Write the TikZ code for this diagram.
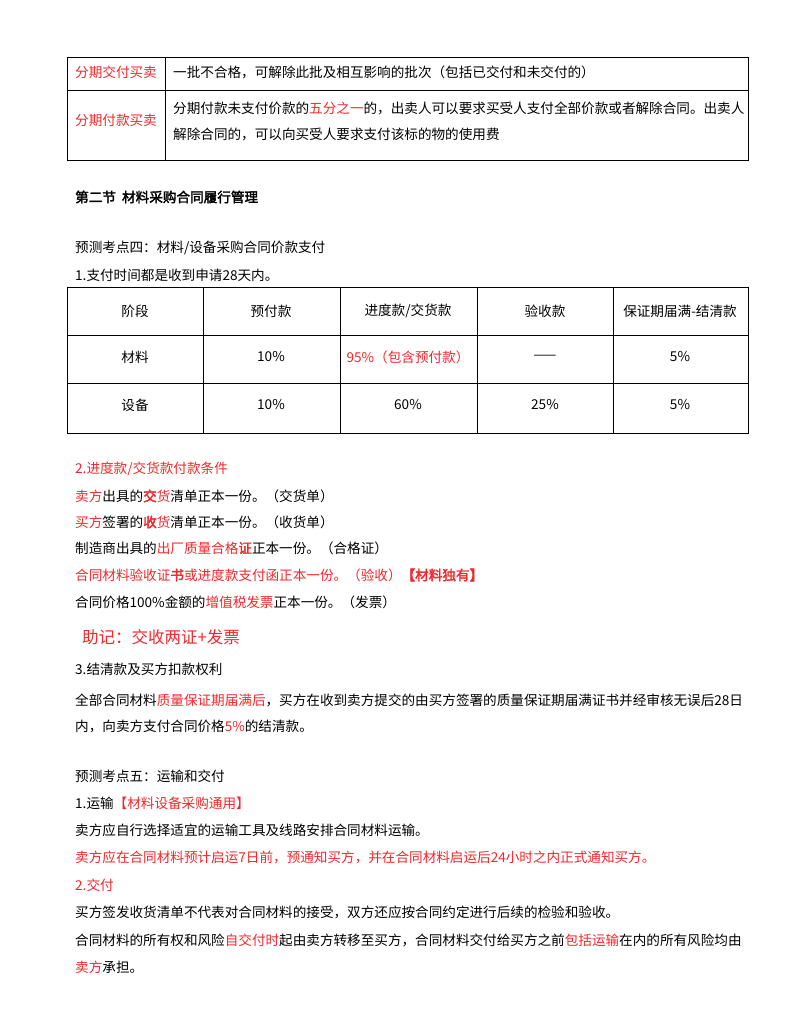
\documentclass[tikz,border=0pt]{standalone}
\usepackage{fontspec}
\newfontfamily\cjk[AutoFakeBold=2.5]{Noto Sans CJK SC}
\definecolor{rd}{HTML}{F0282D}
\newcommand{\R}[1]{\textcolor{rd}{#1}}
\newcommand{\RB}[1]{\textcolor{rd}{\bfseries #1}}
\begin{document}
\begin{tikzpicture}[x=1pt,y=-1pt,
  t/.style={anchor=west,inner sep=0pt,font=\cjk\fontsize{13.6}{16}\selectfont},
  c/.style={anchor=center,inner sep=0pt,font=\cjk\fontsize{13.6}{16}\selectfont},
  ln/.style={line width=0.9pt}]
\useasboundingbox (0,0) rectangle (800,1035);
% table 1
\draw[ln] (67,57) rectangle (748,160);
\draw[ln] (67,90) -- (748,90);
\draw[ln] (165,57) -- (165,160);
\node[c] (a1) at (116,72) {\R{分期交付买卖}};
\node[c] (a2) at (116,120) {\R{分期付款买卖}};
\node[t] (b1) at (173,72) {一批不合格，可解除此批及相互影响的批次（包括已交付和未交付的）};
\node[t] (b2) at (173,108) {分期付款未支付价款的\R{五分之一}的，出卖人可以要求买受人支付全部价款或者解除合同。出卖人};
\node[t] (b3) at (173,134) {解除合同的，可以向买受人要求支付该标的物的使用费};
\node[t] (h) at (75,197) {\bfseries 第二节\ \ 材料采购合同履行管理};
\node[t] (p4) at (75,248) {预测考点四：材料/设备采购合同价款支付};
\node[t] (l1) at (75,275) {1.支付时间都是收到申请28天内。};
% table 2
\draw[ln] (67,287) rectangle (748,433);
\draw[ln] (67,335) -- (748,335) (67,383) -- (748,383);
\foreach \x in {203,340,477,613} \draw[ln] (\x,287) -- (\x,433);
\node[c] (c11) at (135,311) {阶段};
\node[c] (c12) at (271,311) {预付款};
\node[c] (c13) at (408,311) {进度款/交货款};
\node[c] (c14) at (545,311) {验收款};
\node[c] (c15) at (680,311) {保证期届满-结清款};
\node[c] (c21) at (135,357) {材料};
\node[c] (c22) at (271,357) {10\%};
\node[c] (c23) at (408,357) {\R{95\%（包含预付款）}};
\node[c] (c24) at (545,357) {——};
\node[c] (c25) at (680,357) {5\%};
\node[c] (c31) at (135,405) {设备};
\node[c] (c32) at (271,405) {10\%};
\node[c] (c33) at (408,405) {60\%};
\node[c] (c34) at (545,405) {25\%};
\node[c] (c35) at (680,405) {5\%};
% list
\node[t] (m1) at (75,469) {\R{2.进度款/交货款付款条件}};
\node[t] (m2) at (75,496) {\R{卖方}出具的\RB{交}\R{货}清单正本一份。（交货单）};
\node[t] (m3) at (75,522) {\R{买方}签署的\RB{收}\R{货}清单正本一份。（收货单）};
\node[t] (m4) at (75,548) {制造商出具的\R{出厂质量合格}\RB{证}正本一份。（合格证）};
\node[t] (m5) at (75,575) {\R{合同材料验收证}\RB{书}\R{或进度款支付函正本一份。（验收）}\RB{【材料独有】}};
\node[t] (m6) at (75,602) {合同价格100\%金额的\R{增值税发票}正本一份。（发票）};
\node[t,font=\cjk\fontsize{16.5}{18}\selectfont] (m7) at (82,637) {\R{助记：交收两证+发票}};
\node[t] (n1) at (75,669) {3.结清款及买方扣款权利};
\node[t] (n2) at (75,700) {全部合同材料\R{质量保证期届满后}，买方在收到卖方提交的由买方签署的质量保证期届满证书并经审核无误后28日};
\node[t] (n3) at (75,726) {内，向卖方支付合同价格\R{5\%}的结清款。};
\node[t] (q1) at (75,776) {预测考点五：运输和交付};
\node[t] (q2) at (75,803) {1.运输\R{【材料设备采购通用】}};
\node[t] (q3) at (75,830) {卖方应自行选择适宜的运输工具及线路安排合同材料运输。};
\node[t] (q4) at (75,857) {\R{卖方应在合同材料预计启运7日前，预通知买方，并在合同材料启运后24小时之内正式通知买方。}};
\node[t] (q5) at (75,885) {\R{2.交付}};
\node[t] (q6) at (75,912) {买方签发收货清单不代表对合同材料的接受，双方还应按合同约定进行后续的检验和验收。};
\node[t] (q7) at (75,940) {合同材料的所有权和风险\R{自交付时}起由卖方转移至买方，合同材料交付给买方之前\R{包括运输}在内的所有风险均由};
\node[t] (q8) at (75,967) {\R{卖方}承担。};
\end{tikzpicture}
\end{document}
